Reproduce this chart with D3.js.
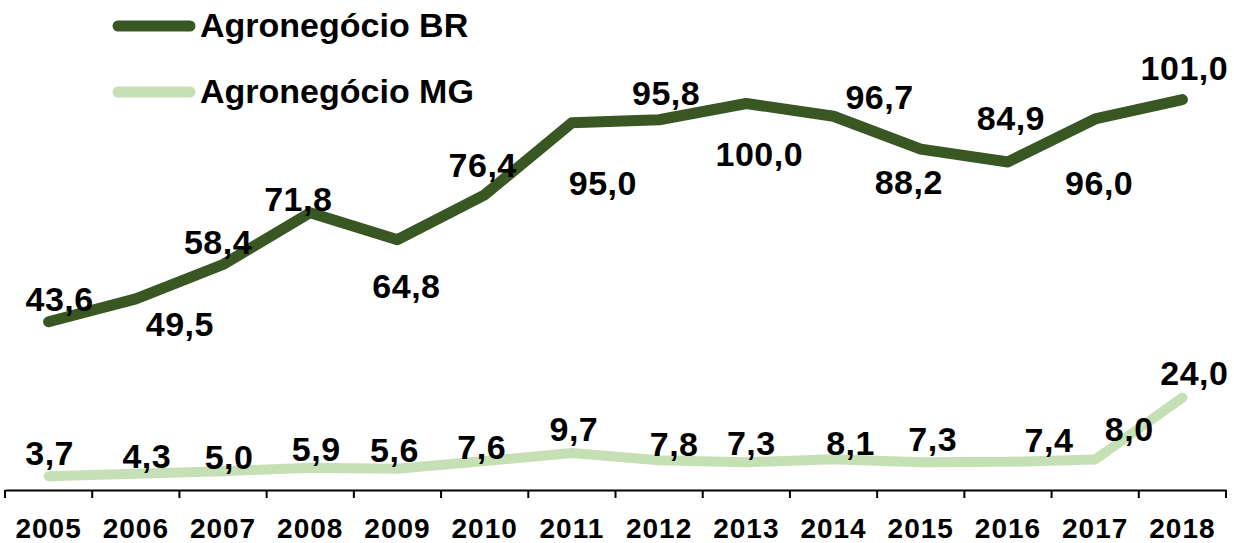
<!DOCTYPE html>
<html><head><meta charset="utf-8">
<script src="https://cdn.jsdelivr.net/npm/d3@7"></script>
<style>
html,body{margin:0;padding:0;background:#fff;}
svg{display:block;font-family:"Liberation Sans",Arial,sans-serif;font-weight:bold;}
</style></head>
<body>
<svg id="chart" width="1234" height="543"></svg>
<script>
const years = ["2005","2006","2007","2008","2009","2010","2011","2012","2013","2014","2015","2016","2017","2018"];
const agroBR = [43.6,49.5,58.4,71.8,64.8,76.4,95.0,95.8,100.0,96.7,88.2,84.9,96.0,101.0];
const agroMG = [3.7,4.3,5.0,5.9,5.6,7.6,9.7,7.8,7.3,8.1,7.3,7.4,8.0,24.0];
const seriesNames = ["Agronegócio BR","Agronegócio MG"];

// label placement offsets (pixels, relative to each point; dy to baseline)
const brDx = [11,44,-5,-12,9,-2,31,7,13,46,-12,3,4,2];
const brDy = [-11,37,-10,-2,58,-18,72,-15,62,-7,45,-32,76,-20];
const mgDx = [1,11,6,6,-3,-3,2,15,5,17,12,41,34,12];
const mgDy = [-11,-6,-2,-7,-7,-2,-12,-4,-7,-4,-11,-10,-19,-13];

const svg = d3.select("#chart");
const x = d3.scaleBand().domain(years).range([5,1226]);
const y = d3.scaleLinear().domain([0,110]).range([490.5, 490.5-3.87*110]);
const fmt = v => v.toFixed(1).replace(".", ",");
const colBR = "#385723", colMG = "#C5E0B4";

// axis
const axis = d3.axisBottom(x).tickSize(0).tickFormat(d=>d);
const gAx = svg.append("g").attr("transform","translate(0,490)").call(axis);
gAx.select(".domain").attr("stroke","#000").attr("stroke-width",2);
gAx.selectAll(".tick text").attr("font-size",28).attr("font-weight","bold")
   .attr("fill","#000").attr("dy",null).attr("y",48).style("letter-spacing","1px");
// boundary tick marks
const bounds = years.map(d=>x(d)).concat([x(years[years.length-1])+x.bandwidth()]);
svg.append("g").selectAll("line").data(bounds).join("line")
  .attr("x1",d=>d).attr("x2",d=>d).attr("y1",490).attr("y2",498)
  .attr("stroke","#000").attr("stroke-width",2);

const cx = d => x(d)+x.bandwidth()/2;
const line = d3.line().x((d,i)=>cx(years[i])).y(d=>y(d));

svg.append("path").datum(agroMG).attr("d",line).attr("fill","none")
  .attr("stroke",colMG).attr("stroke-width",10).attr("stroke-linecap","round").attr("stroke-linejoin","round");
svg.append("path").datum(agroBR).attr("d",line).attr("fill","none")
  .attr("stroke",colBR).attr("stroke-width",11).attr("stroke-linecap","round").attr("stroke-linejoin","round");

// labels
function labels(data, dx, dy){
  svg.append("g").selectAll("text").data(data).join("text")
    .attr("x",(d,i)=>cx(years[i])+dx[i]).attr("y",(d,i)=>y(d)+dy[i])
    .attr("text-anchor","middle").attr("font-size",34).attr("font-weight","bold")
    .style("letter-spacing","0.5px").attr("fill","#000").text(d=>fmt(d));
}
labels(agroBR, brDx, brDy);
labels(agroMG, mgDx, mgDy);

// legend
const leg = svg.append("g");
[[colBR,26,37],[colMG,92,103]].forEach((c,i)=>{
  leg.append("line").attr("x1",118).attr("x2",190).attr("y1",c[1]).attr("y2",c[1])
    .attr("stroke",c[0]).attr("stroke-width",11).attr("stroke-linecap","round");
  leg.append("text").attr("x",200).attr("y",c[2]).attr("font-size",34).attr("font-weight","bold")
    .attr("fill","#000").text(seriesNames[i]);
});
</script>
</body></html>
